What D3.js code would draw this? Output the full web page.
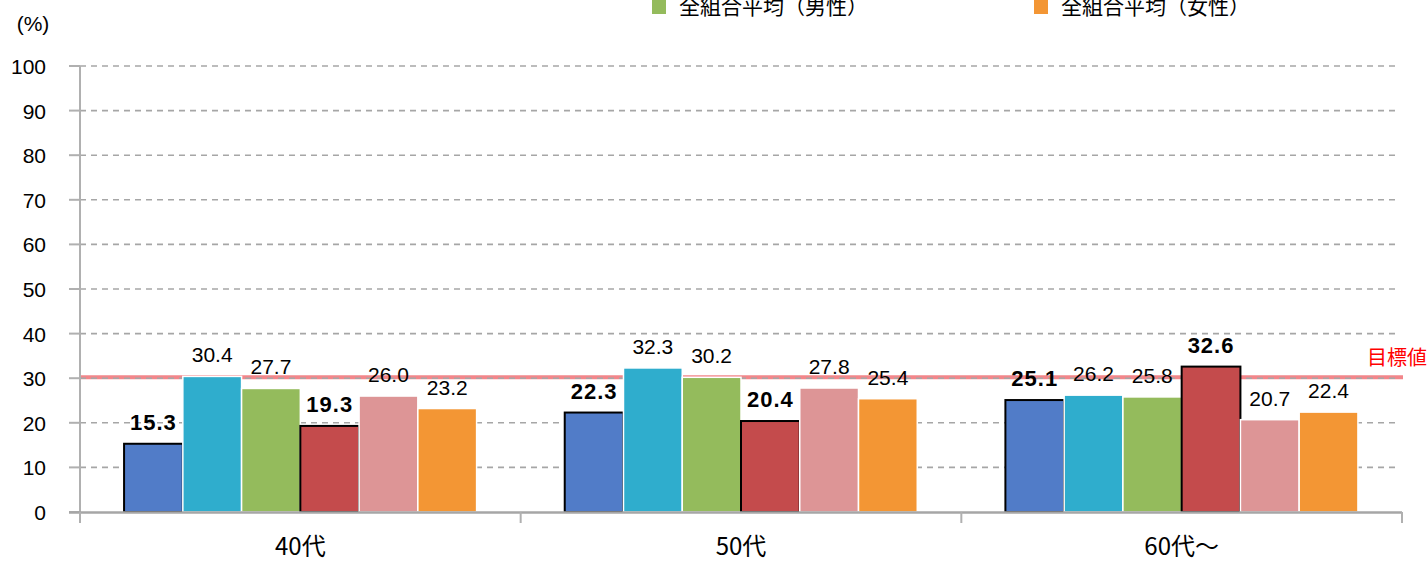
<!DOCTYPE html>
<html>
<head>
<meta charset="utf-8">
<script src="https://cdn.jsdelivr.net/npm/d3@7"></script>
<style>
  body { margin: 0; background: #fff; }
  text { font-family: "Liberation Sans", Arial, sans-serif; fill: #000; }
  .jp { font-family: "Noto Sans CJK JP", sans-serif; }
</style>
</head>
<body>
<div id="chart"></div>
<script>
// data
const categories = ["40代", "50代", "60代～"];
const seriesNames = ["当組合（男性）", "同業種平均（男性）", "全組合平均（男性）",
                     "当組合（女性）", "同業種平均（女性）", "全組合平均（女性）"];
const seriesColors = ["#517cc8", "#2fadcd", "#94bb5c", "#c44b4c", "#dd9596", "#f39634"];
const values = [
  [15.3, 22.3, 25.1],
  [30.4, 32.3, 26.2],
  [27.7, 30.2, 25.8],
  [19.3, 20.4, 32.6],
  [26.0, 27.8, 20.7],
  [23.2, 25.4, 22.4]
];
const boldSeries = [0, 3];
const yTicks = [0, 10, 20, 30, 40, 50, 60, 70, 80, 90, 100];
const legendShown = [2, 5];   // only the last legend row fits in the picture
const targetValue = 30;
const targetLabel = "目標値";

const W = 1428, H = 561;
const svg = d3.select("#chart").append("svg").attr("width", W).attr("height", H);

const y = d3.scaleLinear().domain([0, 100]).range([512, 66]);
const x0 = d3.scaleBand().domain(categories).range([80, 1402]).padding(0);
const x1 = d3.scaleBand().domain(d3.range(seriesNames.length))
  .range([x0.bandwidth() * 0.1, x0.bandwidth() * 0.9]).padding(0);

// target line (behind gridlines / bars)
svg.append("line")
  .attr("x1", 80).attr("x2", 1403)
  .attr("y1", y(targetValue) - 1).attr("y2", y(targetValue) - 1)
  .attr("stroke", "#f2868a").attr("stroke-width", 4);

// gridlines
svg.append("g").selectAll("line")
  .data(yTicks.filter(d => d > 0))
  .enter().append("line")
  .attr("x1", 80).attr("x2", 1400)
  .attr("y1", d => y(d)).attr("y2", d => y(d))
  .attr("stroke", "#a6a6a6").attr("stroke-width", 1.6)
  .attr("stroke-dasharray", "6,5");

// bars, one series after another
values.forEach((vals, s) => {
  const bold = boldSeries.includes(s);
  svg.append("g").selectAll("rect")
    .data(vals)
    .enter().append("rect")
    .attr("x", (d, i) => x0(categories[i]) + x1(s))
    .attr("y", d => y(d))
    .attr("width", x1.bandwidth())
    .attr("height", d => y(0) - y(d))
    .attr("fill", seriesColors[s])
    .attr("stroke", bold ? "#000" : "#fff")
    .attr("stroke-width", bold ? 2 : 1.5);
});

// y axis
svg.append("line").attr("x1", 80).attr("x2", 80).attr("y1", y(100)).attr("y2", 523)
  .attr("stroke", "#b0b0b0").attr("stroke-width", 2);
svg.append("g").selectAll("line")
  .data(yTicks).enter().append("line")
  .attr("x1", 69).attr("x2", 80)
  .attr("y1", d => y(d)).attr("y2", d => y(d))
  .attr("stroke", "#b0b0b0").attr("stroke-width", 2);
svg.append("g").selectAll("text")
  .data(yTicks).enter().append("text")
  .attr("x", 46).attr("y", d => y(d) + 8)
  .attr("text-anchor", "end")
  .style("font-size", "21px")
  .text(d => d);
svg.append("text").attr("x", 33).attr("y", 31)
  .attr("text-anchor", "middle").style("font-size", "21px").text("(%)");

// x axis
svg.append("line").attr("x1", 69).attr("x2", 1402).attr("y1", y(0) + 0.5).attr("y2", y(0) + 0.5)
  .attr("stroke", "#a6a6a6").attr("stroke-width", 2.5);
svg.append("g").selectAll("line")
  .data(categories.concat(["end"])).enter().append("line")
  .attr("x1", (d, i) => i < categories.length ? x0(d) : x0.range()[1])
  .attr("x2", (d, i) => i < categories.length ? x0(d) : x0.range()[1])
  .attr("y1", y(0)).attr("y2", 523)
  .attr("stroke", "#b0b0b0").attr("stroke-width", 2);
svg.append("g").selectAll("text")
  .data(categories).enter().append("text")
  .attr("class", "jp")
  .attr("x", d => x0(d) + x0.bandwidth() / 2)
  .attr("y", 555)
  .attr("text-anchor", "middle")
  .style("font-size", "24px")
  .text(d => d);

// value labels
values.forEach((vals, s) => {
  const bold = boldSeries.includes(s);
  svg.append("g").selectAll("text")
    .data(vals)
    .enter().append("text")
    .attr("x", (d, i) => x0(categories[i]) + x1(s) + x1.bandwidth() / 2)
    .attr("y", d => y(d) - 14)
    .attr("text-anchor", "middle")
    .style("font-size", bold ? "22px" : "21px")
    .style("font-weight", bold ? "700" : "400")
    .style("letter-spacing", bold ? "1px" : "0px")
    .text(d => d3.format(".1f")(d));
});

// target label
svg.append("text").attr("class", "jp")
  .attr("x", 1427).attr("y", 365)
  .attr("text-anchor", "end")
  .style("font-size", "20px").style("fill", "#ff0000")
  .text(targetLabel);

// legend (last row)
const legendX = { 2: 652, 5: 1034 };
legendShown.forEach(s => {
  svg.append("rect").attr("x", legendX[s]).attr("y", 0)
    .attr("width", 14).attr("height", 14).attr("fill", seriesColors[s]);
  svg.append("text").attr("class", "jp")
    .attr("x", legendX[s] + 27).attr("y", 14)
    .style("font-size", "21px")
    .text(seriesNames[s]);
});
</script>
</body>
</html>
